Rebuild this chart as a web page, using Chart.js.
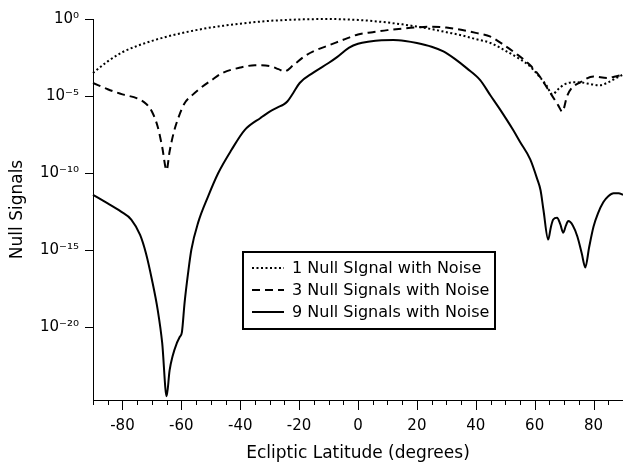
<!DOCTYPE html>
<html>
<head>
<meta charset="utf-8">
<script src="https://cdn.jsdelivr.net/npm/chart.js@4.4.0/dist/chart.umd.min.js"></script>
<style>
  html, body { margin: 0; padding: 0; background: #fff; }
</style>
</head>
<body>
<canvas id="chart" width="623" height="464"></canvas>
<script>
// 1 null signal (dotted)
const lat1 = [-90, -85, -80, -75, -70, -65, -60, -55, -50, -45, -40, -35, -30, -25, -20, -15, -10, -5, 0, 5, 10, 15, 20, 25, 30, 35, 40, 45, 50, 55, 58, 61, 64, 66, 68, 70, 73, 76, 79, 82, 85, 88, 90];
const null1 = [3.2e-4, 1.8e-3, 7.1e-3, 1.8e-2, 3.8e-2, 7.1e-2, 0.12, 0.19, 0.28, 0.38, 0.50, 0.63, 0.76, 0.85, 0.93, 0.98, 1.0, 0.95, 0.87, 0.74, 0.59, 0.45, 0.32, 0.22, 0.14, 0.089, 0.05, 0.028, 8.9e-3, 2.5e-3, 1e-3, 2.5e-4, 5e-5, 1.3e-5, 2.8e-5, 5.6e-5, 7.9e-5, 7.6e-5, 6e-5, 5e-5, 7.9e-5, 1.6e-4, 2.5e-4];

// 3 null signals (dashed)
const lat3 = [-90, -85, -80, -75, -72, -70, -68, -66.5, -65, -64, -62.5, -61, -59, -56, -54, -50, -46, -40, -35, -30, -27, -25, -22, -18, -14, -9.5, -5, 0, 5, 10, 15, 20, 25, 30, 35, 40, 45, 50, 53, 58.5, 62, 64.3, 66, 68, 69.4, 71, 72.5, 75.5, 80, 84.7, 87, 90];
const null3 = [7.1e-5, 2.8e-5, 1.3e-5, 7.1e-6, 3.2e-6, 1e-6, 1e-7, 5e-9, 1.6e-10, 2.5e-9, 5e-8, 4e-7, 3.2e-6, 1.3e-5, 2.8e-5, 1e-4, 3.2e-4, 7.1e-4, 1e-3, 8.9e-4, 5.6e-4, 4e-4, 1e-3, 4e-3, 1e-2, 2.1e-2, 4.5e-2, 0.1, 0.14, 0.19, 0.24, 0.29, 0.32, 0.28, 0.2, 0.126, 0.072, 0.018, 7.1e-3, 1e-3, 1.6e-4, 3.2e-5, 1e-5, 2.5e-6, 1e-6, 1e-5, 3.2e-5, 7.9e-5, 1.9e-4, 1.5e-4, 1.8e-4, 2.5e-4];

// 9 null signals (solid)
const lat9 = [-90, -85, -80.6, -77, -74, -72, -70, -68, -66.5, -65, -64, -63, -61.5, -60.5, -59.8, -58.9, -57.7, -56.6, -54.3, -50.9, -47.5, -43, -38.5, -33, -30, -27, -25.5, -24, -22, -19.8, -15.3, -10, -7, -3, 0, 4, 8, 12, 16, 20, 25, 29, 33, 37, 41.5, 45, 48, 52.7, 55, 58.5, 60.9, 62, 63, 64.6, 65.5, 66.3, 67.6, 68.7, 69.7, 70.6, 71.4, 73, 74.5, 76, 77.2, 78.5, 80, 81.5, 83.3, 85, 86.8, 88.5, 90];
const null9 = [4e-12, 1.1e-12, 3.4e-13, 1e-13, 1e-14, 6.3e-16, 1.3e-17, 1.3e-19, 1e-21, 3.5e-25, 1.6e-23, 1.3e-22, 1e-21, 2.5e-21, 5e-21, 4e-19, 3.5e-17, 1.1e-15, 6.3e-14, 3.2e-12, 1e-10, 3.2e-9, 6.3e-8, 4e-7, 1e-6, 2e-6, 2.7e-6, 4.5e-6, 1.6e-5, 7.1e-5, 3.2e-4, 1.4e-3, 3.5e-3, 1.4e-2, 2.5e-2, 3.5e-2, 4.2e-2, 4.4e-2, 3.8e-2, 2.8e-2, 1.6e-2, 7.9e-3, 2.5e-3, 6.3e-4, 1.1e-4, 1.1e-5, 1.6e-6, 6.3e-8, 1.1e-8, 7.9e-10, 4e-11, 7.9e-12, 4e-13, 5e-15, 3.2e-14, 1e-13, 1.3e-13, 5e-14, 1.4e-14, 4e-14, 7.9e-14, 4e-14, 7.9e-15, 6.3e-16, 7.9e-17, 1.6e-15, 3.5e-14, 2.5e-13, 1.3e-12, 3.2e-12, 5e-12, 5e-12, 4e-12];

const seriesLabels = ["1 Null SIgnal with Noise", "3 Null Signals with Noise", "9 Null Signals with Noise"];
const xTicks = [-80, -60, -40, -20, 0, 20, 40, 60, 80];
const yTicks = [1e-20, 1e-15, 1e-10, 1e-5, 1];
const yTickLabels = ["10⁻²⁰", "10⁻¹⁵", "10⁻¹⁰", "10⁻⁵", "10⁰"];

const FONT = "'DejaVu Sans', sans-serif";

function toPoints(xs, ys) {
    return xs.map((x, i) => ({ x: x, y: ys[i] }));
}

// petits traits de l'axe x + légende encadrée
const decor = {
    id: "decor",
    afterDraw(chart) {
        const { ctx, chartArea } = chart;
        const x = chart.scales.x;
        ctx.save();
        ctx.strokeStyle = "#000";
        ctx.lineWidth = 1;
        for (let v = -90; v <= 90; v += 5) {
            const px = Math.round(x.getPixelForValue(v)) + 0.5;
            const len = xTicks.includes(v) ? 10 : 5;
            ctx.beginPath();
            ctx.moveTo(px, chartArea.bottom);
            ctx.lineTo(px, chartArea.bottom + len);
            ctx.stroke();
        }

        const bx = 243, by = 252, bw = 252, bh = 77;
        ctx.fillStyle = "#fff";
        ctx.fillRect(bx, by, bw, bh);
        ctx.lineWidth = 2;
        ctx.strokeRect(bx, by, bw, bh);
        ctx.font = "16px " + FONT;
        ctx.textBaseline = "middle";
        ctx.fillStyle = "#000";
        chart.data.datasets.forEach((ds, i) => {
            const y = by + 16 + i * 22;
            ctx.setLineDash(ds.borderDash || []);
            ctx.lineWidth = 2;
            ctx.beginPath();
            ctx.moveTo(252, y);
            ctx.lineTo(284, y);
            ctx.stroke();
            ctx.setLineDash([]);
            ctx.fillText(ds.label, 292, y + 1);
        });
        ctx.restore();
    }
};

new Chart(document.getElementById("chart").getContext("2d"), {
    type: "line",
    data: {
        datasets: [
            {
                label: seriesLabels[0],
                data: toPoints(lat1, null1),
                borderColor: "#000",
                borderWidth: 2,
                borderDash: [2, 2.5],
            },
            {
                label: seriesLabels[1],
                data: toPoints(lat3, null3),
                borderColor: "#000",
                borderWidth: 2,
                borderDash: [8, 5],
            },
            {
                label: seriesLabels[2],
                data: toPoints(lat9, null9),
                borderColor: "#000",
                borderWidth: 2,
            },
        ],
    },
    options: {
        responsive: false,
        animation: false,
        clip: false,
        layout: { padding: { top: 19, left: 0, right: 0, bottom: 0 } },
        elements: {
            point: { radius: 0 },
            line: { cubicInterpolationMode: "monotone", fill: false },
        },
        plugins: {
            legend: { display: false },
            tooltip: { enabled: false },
        },
        scales: {
            x: {
                type: "linear",
                min: -90,
                max: 90,
                afterBuildTicks: (scale) => {
                    scale.ticks = xTicks.map((v) => ({ value: v }));
                },
                afterFit: (scale) => {
                    scale.height = 64;
                },
                grid: { display: false },
                border: { display: true, color: "#000", width: 1 },
                ticks: {
                    autoSkip: false,
                    maxRotation: 0,
                    padding: 9,
                    color: "#000",
                    font: { family: FONT, size: 15 },
                },
                title: {
                    display: true,
                    text: "Ecliptic Latitude (degrees)",
                    color: "#000",
                    font: { family: FONT, size: 17 },
                    padding: { top: 4, bottom: 0 },
                },
            },
            y: {
                type: "logarithmic",
                min: 2.2e-25,
                max: 1,
                afterBuildTicks: (scale) => {
                    scale.ticks = yTicks.map((v) => ({ value: v }));
                },
                afterFit: (scale) => {
                    scale.width = 93;
                },
                grid: {
                    drawOnChartArea: false,
                    drawTicks: true,
                    tickLength: 8,
                    color: "#000",
                },
                border: { display: true, color: "#000", width: 1 },
                ticks: {
                    padding: 6,
                    color: "#000",
                    font: { family: FONT, size: 15 },
                    callback: (value, index) => yTickLabels[index],
                },
                title: {
                    display: true,
                    text: "Null Signals",
                    color: "#000",
                    font: { family: FONT, size: 17 },
                    padding: { top: 7, bottom: 4 },
                },
            },
        },
    },
    plugins: [decor],
});
</script>
</body>
</html>
